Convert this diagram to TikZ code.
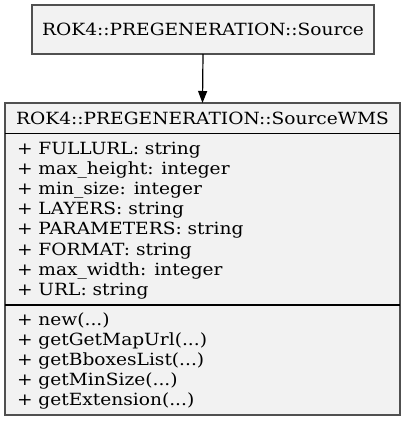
\documentclass[tikz,border=0pt]{standalone}
\usepackage{fontspec}
\setmainfont[FakeStretch=1.107]{DejaVu Serif}
\usetikzlibrary{arrows.meta}
\definecolor{boxfill}{HTML}{F2F2F2}
\definecolor{boxline}{HTML}{505050}
\tikzset{
  classbox/.style={draw=boxline, fill=boxfill, line width=1.3pt, inner sep=0pt, outer sep=0pt},
  txt/.style={inner sep=0pt, outer sep=0pt, font=\fontsize{16.8}{20}\selectfont, anchor=base west},
  ttl/.style={inner sep=0pt, outer sep=0pt, font=\fontsize{16.8}{20}\selectfont, anchor=base},
  sep/.style={draw=black, line width=1.3pt},
}
\begin{document}
\begin{tikzpicture}[x=1pt,y=-1pt]
\useasboundingbox (0,0) rectangle (405,421);
\node[classbox, minimum width=342pt, minimum height=49pt] (src) at (203,29.5) {};
\node[ttl] (srct) at (203,35.5) {ROK4::PREGENERATION::Source};
\node[classbox, minimum width=395pt, minimum height=312pt] (wms) at (202.5,259) {};
\node[ttl] (wmst) at (202.5,124) {ROK4::PREGENERATION::SourceWMS};
\coordinate (s1w) at (5,133.5);
\coordinate (s1e) at (400,133.5);
\coordinate (s2w) at (5,305);
\coordinate (s2e) at (400,305);
\draw[sep] (s1w) -- (s1e);
\draw[sep] (s2w) -- (s2e);
\node[txt] (a1) at (17,154.5) {+ FULLURL: string};
\node[txt] (a2) at (17,174.6) {+ max\_height: integer};
\node[txt] (a3) at (17,194.7) {+ min\_size: integer};
\node[txt] (a4) at (17,214.8) {+ LAYERS: string};
\node[txt] (a5) at (17,234.9) {+ PARAMETERS: string};
\node[txt] (a6) at (17,255) {+ FORMAT: string};
\node[txt] (a7) at (17,275.1) {+ max\_width: integer};
\node[txt] (a8) at (17,295.2) {+ URL: string};
\node[txt] (m1) at (17,325) {+ new(...)};
\node[txt] (m2) at (17,345) {+ getGetMapUrl(...)};
\node[txt] (m3) at (17,365) {+ getBboxesList(...)};
\node[txt] (m4) at (17,385) {+ getMinSize(...)};
\node[txt] (m5) at (17,405) {+ getExtension(...)};
\draw[-{Triangle[length=12pt,width=9pt]}, line width=1.2pt] (src.south) -- (wms.north);
\end{tikzpicture}
\end{document}
